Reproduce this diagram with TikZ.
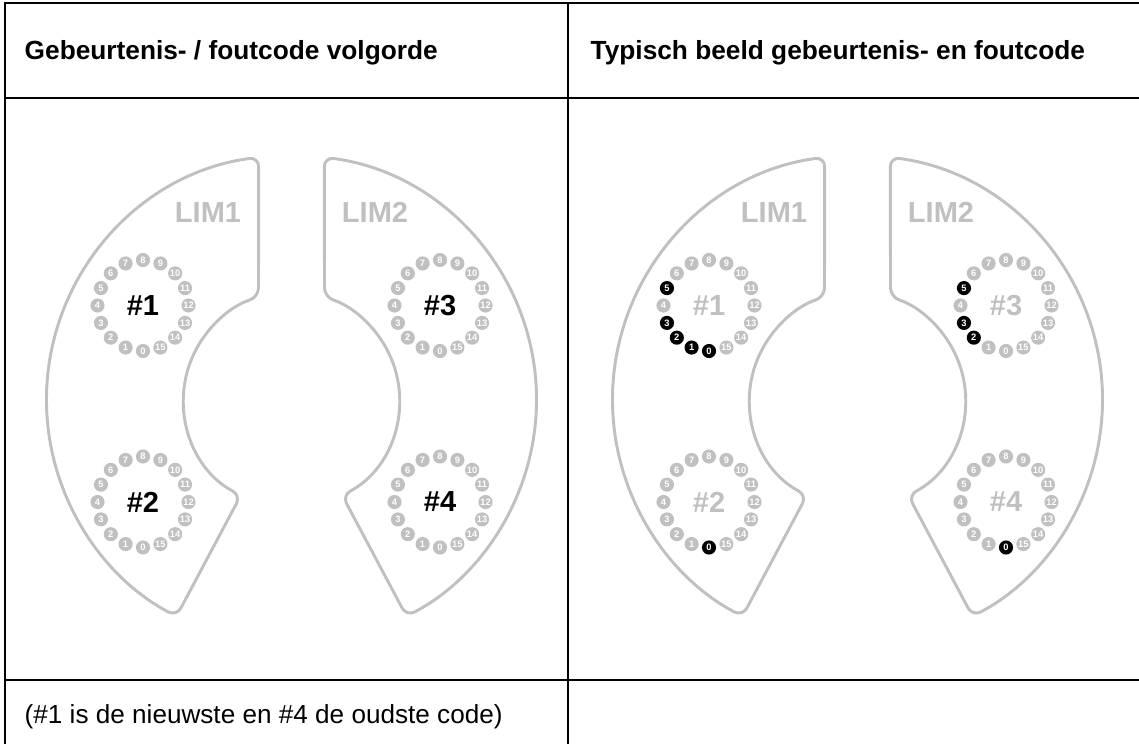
\documentclass[tikz,border=0pt]{standalone}
\usepackage{fontspec}
\setmainfont{Liberation Sans}
\definecolor{limgray}{HTML}{C0C0C0}

% lit leds in the second panel
\tikzset{
  lit/.style={fill=black},
  b1-0/.style={lit}, b1-1/.style={lit}, b1-2/.style={lit}, b1-3/.style={lit}, b1-5/.style={lit},
  b2-0/.style={lit},
  b3-2/.style={lit}, b3-3/.style={lit}, b3-5/.style={lit},
  b4-0/.style={lit}
}

\begin{document}
\begin{tikzpicture}[x=0.75pt,y=-0.75pt,
    gridline/.style={line width=1.8pt,line cap=rect},
    limshape/.style={draw=limgray,line width=2.2pt,rounded corners=7pt},
    limlabel/.style={text=limgray,font=\fontsize{21.75}{24}\selectfont\bfseries},
    codelabel/.style={font=\fontsize{21.75}{24}\selectfont\bfseries},
    led/.style={circle,fill=limgray,minimum size=10.6pt,inner sep=0pt,text=white,font=\fontsize{7}{7}\selectfont\bfseries},
    header/.style={anchor=base west,font=\fontsize{19.7}{22}\selectfont\bfseries},
    note/.style={anchor=base west,font=\fontsize{19.6}{22}\selectfont}]
\useasboundingbox (0,0) rectangle (1139,743);

% table
\draw[gridline] (5,3) -- (1139,3);
\draw[gridline] (5,98) -- (1139,98);
\draw[gridline] (5,680) -- (1139,680);
\draw[gridline] (5,3) -- (5,743);
\draw[gridline] (568,3) -- (568,743);

\node[header] (head1) at (20,59) {Gebeurtenis- / foutcode volgorde};
\node[header] (head2) at (586,59) {Typisch beeld gebeurtenis- en foutcode};
\node[note] (note) at (20,723) {(\#1 is de nieuwste en \#4 de oudste code)};

% both panels
\foreach \p/\dx/\cc in {a/0/black,b/566/limgray}{
  \begin{scope}[shift={(\dx,0)}]
    \draw[limshape] ([shift={(262.3:245)}]291.5,400) arc[start angle=262.3,end angle=118,radius=245]
      -- ([shift={(118:108)}]291.5,400) arc[start angle=118,end angle=252.2,radius=108] -- cycle;
    \draw[limshape] ([shift={(277.7:245)}]291.5,400) arc[start angle=277.7,end angle=422,radius=245]
      -- ([shift={(62:108)}]291.5,400) arc[start angle=62,end angle=-72.2,radius=108] -- cycle;
    \node[limlabel] (\p lim1) at (208,212.5) {LIM1};
    \node[limlabel] (\p lim2) at (375,212.5) {LIM2};
    \foreach \k/\rx/\ry in {1/143/305.5,2/143/502,3/440/305.5,4/440/502}{
      \begin{scope}[shift={(\rx,\ry)}]
        \node[codelabel,text=\cc] (\p code\k) at (0,0) {\#\k};
        \foreach \i in {0,...,15}
          \node[led,\p\k-\i/.try] (\p r\k-\i) at ({90+22.5*\i}:45.5) {\i};
      \end{scope}
    }
  \end{scope}
}
\end{tikzpicture}
\end{document}
